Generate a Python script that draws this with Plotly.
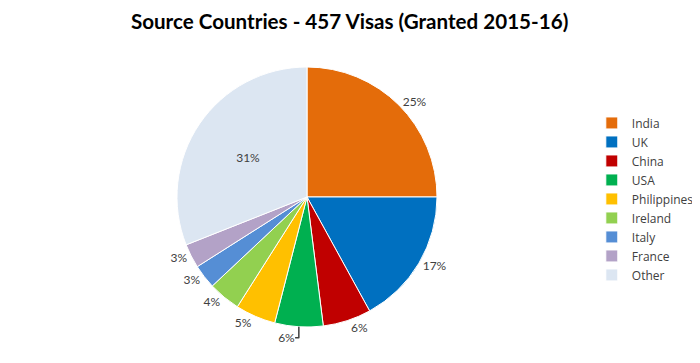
import plotly.graph_objects as go

countries = ["India", "UK", "China", "USA", "Philippines", "Ireland", "Italy", "France", "Other"]
shares = [25, 17, 6, 6, 5, 4, 3, 3, 31]
colors = ["#E46C0A", "#0070C0", "#C00000", "#00B050", "#FFC000", "#92D050", "#558ED5", "#B3A2C7", "#DCE6F2"]
text_pos = ["outside"] * 8 + ["inside"]

fig = go.Figure(go.Pie(
    labels=countries,
    values=shares,
    sort=False,
    direction="clockwise",
    rotation=0,
    marker=dict(colors=colors, line=dict(color="white", width=1)),
    texttemplate="%{value}%",
    textposition=text_pos,
    textfont=dict(family="Lato, Open Sans, Arial", size=12, color="#404040"),
    insidetextorientation="horizontal",
    domain=dict(x=[0.2414, 0.6129], y=[0.1212, 0.8375]),
    hoverinfo="label+value",
))

fig.update_layout(
    width=700, height=363,
    margin=dict(l=0, r=0, t=0, b=0),
    paper_bgcolor="white",
    title=dict(text="<b>Source Countries - 457 Visas (Granted 2015-16)</b>",
               x=0.488, xanchor="center", y=0.962, yanchor="middle",
               font=dict(family="Lato, Open Sans, Arial", size=20.6, color="#000000")),
    legend=dict(x=0.834, y=0.474, xanchor="left", yanchor="middle",
                font=dict(family="Open Sans, Arial", size=12, color="#404040"),
                itemwidth=30),
    showlegend=True,
)

fig.write_html("out.html")
